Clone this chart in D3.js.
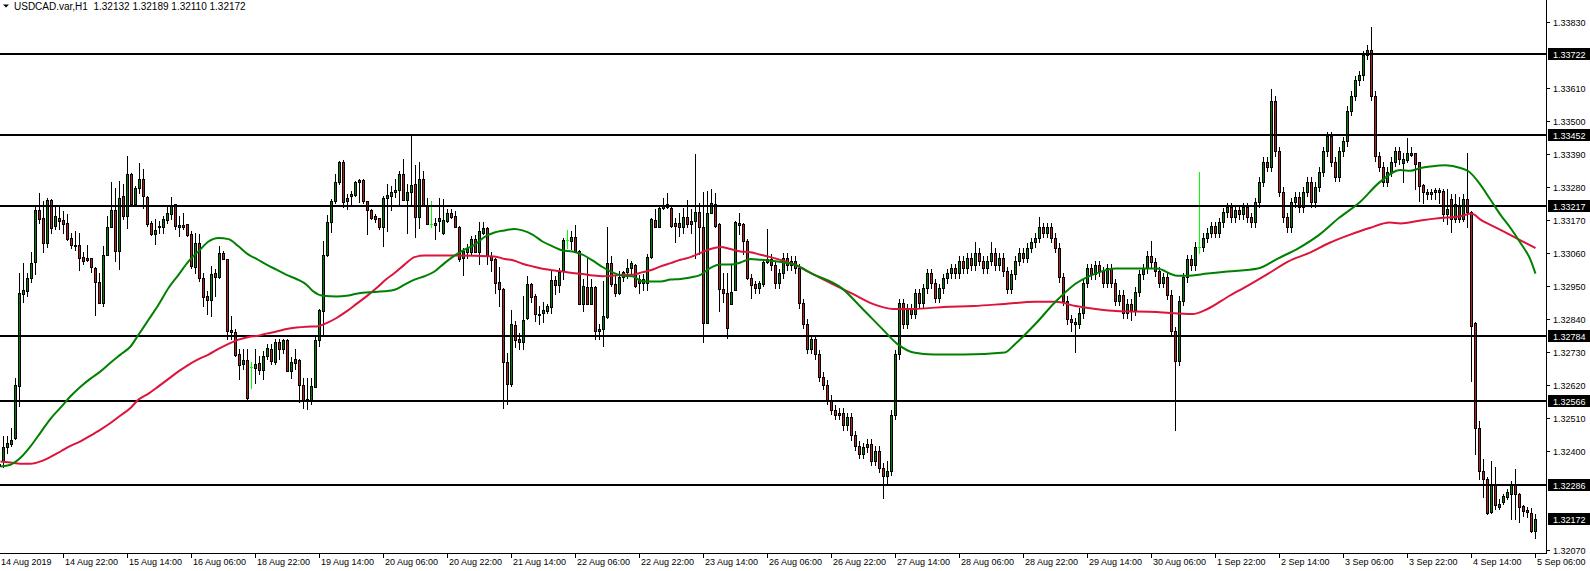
<!DOCTYPE html>
<html><head><meta charset="utf-8">
<script src="https://cdn.jsdelivr.net/npm/d3@7"></script>
<style>
body{margin:0;background:#fff;overflow:hidden;}
svg{display:block;}
text{font-family:"Liberation Sans",Arial,sans-serif;font-size:9px;fill:#000;}
</style></head>
<body><svg id="c" width="1590" height="571"></svg>
<script>
// ---- data (USDCAD.var, H1) ----
const opens=[1.32350,1.32367,1.32412,1.32423,1.32442,1.32617,1.32923,1.32934,1.32976,1.33030,1.33203,1.33176,1.33094,1.33237,1.33149,1.33178,1.33169,1.33159,1.33109,1.33088,1.33085,1.33046,1.33043,1.33043,1.33009,1.32962,1.32894,1.33055,1.33146,1.33203,1.33065,1.33250,1.33184,1.33322,1.33222,1.33276,1.33306,1.33248,1.33161,1.33122,1.33145,1.33145,1.33170,1.33189,1.33222,1.33152,1.33152,1.33156,1.33122,1.33013,1.33092,1.32978,1.32917,1.32903,1.32995,1.32980,1.33061,1.33039,1.32802,1.32797,1.32722,1.32689,1.32702,1.32680,1.32678,1.32693,1.32670,1.32717,1.32739,1.32698,1.32764,1.32739,1.32770,1.32667,1.32692,1.32703,1.32620,1.32573,1.32569,1.32614,1.32769,1.32867,1.33053,1.33164,1.33234,1.33295,1.33364,1.33234,1.33250,1.33255,1.33295,1.33303,1.33232,1.33203,1.33183,1.33176,1.33145,1.33244,1.33250,1.33262,1.33270,1.33323,1.33237,1.33262,1.33289,1.33180,1.33308,1.33219,1.33158,1.33153,1.33167,1.33125,1.33167,1.33195,1.33182,1.33148,1.33042,1.33064,1.33064,1.33106,1.33064,1.33128,1.33143,1.33050,1.33039,1.32962,1.32939,1.32697,1.32625,1.32819,1.32772,1.32763,1.32845,1.32956,1.32915,1.32857,1.32861,1.32865,1.32881,1.32969,1.32953,1.33000,1.33102,1.33100,1.33112,1.33067,1.32891,1.32947,1.32891,1.32947,1.32800,1.32806,1.32847,1.33026,1.32956,1.32928,1.32981,1.32998,1.33011,1.33020,1.32975,1.32959,1.32959,1.33048,1.33169,1.33148,1.33209,1.33213,1.33211,1.33161,1.33161,1.33145,1.33181,1.33167,1.33167,1.33197,1.33145,1.32828,1.33195,1.33222,1.33156,1.32941,1.32925,1.32891,1.32937,1.33161,1.33156,1.33100,1.32978,1.32956,1.32942,1.32956,1.33030,1.33041,1.33020,1.32959,1.32993,1.33044,1.33020,1.33034,1.33010,1.32892,1.32824,1.32740,1.32773,1.32723,1.32648,1.32621,1.32571,1.32537,1.32520,1.32527,1.32486,1.32513,1.32452,1.32418,1.32391,
1.32412,1.32425,1.32368,1.32401,1.32344,1.32317,1.32334,1.32520,1.32723,1.32892,1.32824,1.32875,1.32858,1.32926,1.32892,1.32942,1.32993,1.32959,1.32910,1.32942,1.32976,1.32993,1.33010,1.32993,1.33034,1.33010,1.33044,1.33020,1.33061,1.33034,1.33010,1.33034,1.33061,1.33020,1.33044,1.33000,1.32940,1.32990,1.33034,1.33061,1.33044,1.33078,1.33095,1.33111,1.33145,1.33128,1.33145,1.33111,1.33078,1.32980,1.32900,1.32840,1.32830,1.32824,1.32860,1.32960,1.33010,1.32990,1.33020,1.33000,1.32960,1.33010,1.32960,1.32900,1.32920,1.32860,1.32890,1.32870,1.32930,1.32990,1.33010,1.33050,1.33030,1.33000,1.32960,1.32980,1.32920,1.32800,1.32700,1.32900,1.32980,1.33040,1.33020,1.33080,1.33080,1.33110,1.33128,1.33150,1.33128,
1.33162,1.33196,1.33213,1.33179,1.33203,1.33189,1.33213,1.33179,1.33162,1.33230,1.33297,1.33365,1.33348,1.33568,1.33399,1.33264,1.33179,1.33145,1.33230,1.33247,1.33213,1.33264,1.33297,1.33230,1.33281,1.33331,1.33399,1.33450,1.33365,1.33314,1.33399,1.33433,1.33534,1.33585,1.33636,1.33652,1.33720,1.33737,1.33585,1.33382,1.33348,1.33297,1.33331,1.33365,1.33399,1.33359,1.33369,1.33387,1.33392,1.33362,1.33286,1.33258,1.33264,1.33262,1.33270,1.33267,1.33189,1.33239,1.33173,1.33216,1.33173,1.33239,1.33196,1.32826,1.32478,1.32333,1.32306,1.32196,1.32289,1.32213,1.32230,1.32246,1.32256,1.32289,1.32256,1.32216,1.32203,1.32195,1.32132];
const highs=[1.32362,1.32450,1.32450,1.32478,1.32642,1.32993,1.33026,1.32993,1.33062,1.33217,1.33259,1.33232,1.33242,1.33240,1.33215,1.33217,1.33200,1.33189,1.33128,1.33132,1.33128,1.33062,1.33086,1.33045,1.33012,1.32995,1.33084,1.33184,1.33295,1.33278,1.33300,1.33289,1.33384,1.33328,1.33283,1.33359,1.33339,1.33250,1.33167,1.33172,1.33167,1.33183,1.33217,1.33248,1.33222,1.33183,1.33195,1.33156,1.33133,1.33128,1.33122,1.32995,1.32933,1.33017,1.33006,1.33083,1.33067,1.33041,1.32850,1.32806,1.32739,1.32739,1.32739,1.32695,1.32739,1.32717,1.32734,1.32756,1.32756,1.32773,1.32773,1.32773,1.32773,1.32712,1.32739,1.32706,1.32645,1.32645,1.32645,1.32784,1.32872,1.33100,1.33186,1.33239,1.33323,1.33367,1.33370,1.33256,1.33267,1.33300,1.33308,1.33306,1.33234,1.33206,1.33189,1.33178,1.33250,1.33289,1.33284,1.33308,1.33334,1.33375,1.33289,1.33450,1.33353,1.33362,1.33334,1.33243,1.33234,1.33178,1.33245,1.33239,1.33206,1.33208,1.33200,1.33150,1.33078,1.33089,1.33117,1.33119,1.33162,1.33164,1.33145,1.33062,1.33042,1.33012,1.32942,1.32728,1.32869,1.32833,1.32795,1.32917,1.32983,1.32959,1.32922,1.32883,1.32895,1.32889,1.33000,1.32983,1.33011,1.33111,1.33137,1.33133,1.33152,1.33069,1.32972,1.33045,1.32972,1.32950,1.32822,1.32967,1.33148,1.33050,1.32983,1.33000,1.33000,1.33039,1.33033,1.33023,1.32986,1.32989,1.33056,1.33176,1.33206,1.33217,1.33245,1.33261,1.33219,1.33178,1.33195,1.33211,1.33236,1.33206,1.33389,1.33228,1.33263,1.33267,1.33272,1.33259,1.33161,1.32992,1.32992,1.33022,1.33167,1.33192,1.33161,1.33106,1.32989,1.32967,1.32967,1.33033,1.33141,1.33056,1.33035,1.33008,1.33059,1.33059,1.33049,1.33049,1.33025,1.32907,1.32839,1.32788,1.32788,1.32738,1.32663,1.32636,1.32586,1.32552,1.32542,1.32542,1.32528,1.32528,1.32467,1.32433,1.32427,
1.32440,1.32440,1.32416,1.32416,1.32360,1.32366,1.32535,1.32738,1.32907,1.32907,1.32890,1.32890,1.32941,1.32941,1.32957,1.33008,1.33008,1.32974,1.32957,1.32991,1.33008,1.33025,1.33025,1.33049,1.33049,1.33059,1.33059,1.33095,1.33076,1.33049,1.33049,1.33095,1.33076,1.33059,1.33059,1.33015,1.33005,1.33049,1.33076,1.33076,1.33093,1.33110,1.33126,1.33179,1.33160,1.33160,1.33160,1.33126,1.33093,1.32995,1.32915,1.32855,1.32845,1.32875,1.32975,1.33025,1.33025,1.33035,1.33035,1.33015,1.33025,1.33025,1.32975,1.32935,1.32935,1.32905,1.32905,1.32945,1.33005,1.33025,1.33065,1.33101,1.33045,1.33015,1.32995,1.32995,1.32935,1.32815,1.32915,1.32995,1.33055,1.33055,1.33095,1.33331,1.33125,1.33143,1.33165,1.33165,1.33177,
1.33211,1.33228,1.33228,1.33218,1.33218,1.33228,1.33228,1.33194,1.33245,1.33312,1.33380,1.33380,1.33608,1.33583,1.33414,1.33279,1.33194,1.33245,1.33262,1.33262,1.33279,1.33312,1.33312,1.33296,1.33346,1.33414,1.33465,1.33465,1.33380,1.33414,1.33448,1.33549,1.33600,1.33651,1.33667,1.33735,1.33752,1.33815,1.33600,1.33397,1.33363,1.33346,1.33380,1.33414,1.33414,1.33393,1.33445,1.33412,1.33395,1.33365,1.33289,1.33273,1.33273,1.33278,1.33275,1.33273,1.33273,1.33256,1.33256,1.33246,1.33256,1.33393,1.33199,1.32830,1.32500,1.32373,1.32313,1.32367,1.32346,1.32239,1.32256,1.32273,1.32299,1.32339,1.32259,1.32219,1.32213,1.32209,1.32189];
const lows=[1.32239,1.32345,1.32395,1.32417,1.32440,1.32550,1.32897,1.32917,1.32964,1.32989,1.33159,1.33062,1.33080,1.33128,1.33139,1.33139,1.33128,1.33104,1.33075,1.33070,1.33004,1.33023,1.33032,1.32997,1.32854,1.32893,1.32884,1.33053,1.33145,1.33033,1.33008,1.33173,1.33143,1.33217,1.33217,1.33261,1.33211,1.33150,1.33120,1.33089,1.33128,1.33128,1.33161,1.33172,1.33139,1.33115,1.33139,1.33117,1.33011,1.32995,1.32967,1.32883,1.32856,1.32850,1.32917,1.32978,1.33039,1.32772,1.32772,1.32717,1.32639,1.32672,1.32575,1.32611,1.32628,1.32656,1.32639,1.32706,1.32689,1.32689,1.32706,1.32728,1.32667,1.32645,1.32673,1.32562,1.32542,1.32539,1.32556,1.32612,1.32750,1.32789,1.33050,1.33130,1.33228,1.33289,1.33215,1.33206,1.33219,1.33250,1.33230,1.33228,1.33123,1.33173,1.33164,1.33139,1.33084,1.33134,1.33204,1.33248,1.33223,1.33236,1.33128,1.33223,1.33112,1.33142,1.33217,1.33156,1.33145,1.33108,1.33134,1.33123,1.33164,1.33178,1.33145,1.33034,1.32986,1.33042,1.33056,1.33062,1.33023,1.33123,1.33023,1.33000,1.32928,1.32884,1.32542,1.32556,1.32617,1.32745,1.32741,1.32741,1.32839,1.32895,1.32833,1.32822,1.32830,1.32861,1.32861,1.32922,1.32930,1.32972,1.33078,1.33072,1.33066,1.32889,1.32867,1.32889,1.32889,1.32772,1.32772,1.32750,1.32845,1.32950,1.32915,1.32922,1.32967,1.32978,1.32989,1.32948,1.32926,1.32937,1.32937,1.33045,1.33145,1.33145,1.33206,1.33211,1.33148,1.33095,1.33117,1.33126,1.33148,1.33128,1.33045,1.33056,1.32765,1.32826,1.33192,1.33148,1.32867,1.32895,1.32778,1.32889,1.32936,1.33122,1.33056,1.32972,1.32911,1.32928,1.32928,1.32950,1.33026,1.33005,1.32944,1.32944,1.32978,1.33005,1.33005,1.32995,1.32877,1.32809,1.32725,1.32725,1.32708,1.32633,1.32606,1.32556,1.32522,1.32505,1.32505,1.32471,1.32471,1.32437,1.32403,1.32376,1.32376,
1.32397,1.32353,1.32353,1.32329,1.32245,1.32290,1.32319,1.32505,1.32708,1.32809,1.32809,1.32843,1.32843,1.32877,1.32877,1.32927,1.32944,1.32895,1.32895,1.32927,1.32961,1.32978,1.32978,1.32978,1.32995,1.32995,1.33005,1.33005,1.33019,1.32995,1.32995,1.33019,1.33005,1.33005,1.32985,1.32925,1.32925,1.32975,1.33019,1.33029,1.33029,1.33063,1.33080,1.33096,1.33113,1.33113,1.33096,1.33063,1.32965,1.32885,1.32825,1.32800,1.32730,1.32809,1.32845,1.32945,1.32975,1.32975,1.32985,1.32945,1.32945,1.32945,1.32885,1.32885,1.32845,1.32845,1.32836,1.32855,1.32915,1.32975,1.32995,1.33015,1.32985,1.32945,1.32945,1.32905,1.32785,1.32469,1.32685,1.32885,1.32965,1.33005,1.33005,1.33060,1.33065,1.33095,1.33113,1.33113,1.33113,
1.33147,1.33181,1.33164,1.33164,1.33174,1.33174,1.33164,1.33147,1.33147,1.33215,1.33282,1.33333,1.33333,1.33384,1.33249,1.33164,1.33130,1.33130,1.33215,1.33198,1.33198,1.33249,1.33215,1.33215,1.33266,1.33316,1.33384,1.33350,1.33299,1.33299,1.33384,1.33418,1.33519,1.33570,1.33621,1.33637,1.33705,1.33570,1.33367,1.33333,1.33282,1.33282,1.33316,1.33350,1.33357,1.33295,1.33362,1.33384,1.33273,1.33234,1.33228,1.33239,1.33239,1.33239,1.33228,1.33166,1.33156,1.33130,1.33163,1.33163,1.33166,1.33146,1.32634,1.32389,1.32306,1.32246,1.32189,1.32193,1.32206,1.32206,1.32223,1.32239,1.32173,1.32173,1.32163,1.32184,1.32179,1.32129,1.32110];
const closes=[1.32356,1.32412,1.32426,1.32436,1.32619,1.32926,1.32936,1.32976,1.33028,1.33203,1.33175,1.33094,1.33237,1.33142,1.33185,1.33167,1.33156,1.33106,1.33087,1.33084,1.33044,1.33034,1.33037,1.33012,1.32962,1.32894,1.33055,1.33146,1.33204,1.33065,1.33245,1.33184,1.33323,1.33222,1.33278,1.33306,1.33250,1.33156,1.33122,1.33136,1.33149,1.33172,1.33192,1.33217,1.33150,1.33147,1.33147,1.33120,1.33017,1.33092,1.32978,1.32913,1.32903,1.32991,1.32980,1.33061,1.33041,1.32800,1.32797,1.32720,1.32687,1.32702,1.32576,1.32680,1.32691,1.32670,1.32717,1.32742,1.32700,1.32762,1.32739,1.32770,1.32667,1.32695,1.32706,1.32620,1.32569,1.32567,1.32617,1.32769,1.32869,1.33053,1.33165,1.33234,1.33295,1.33362,1.33230,1.33245,1.33256,1.33295,1.33303,1.33232,1.33203,1.33176,1.33173,1.33145,1.33245,1.33253,1.33264,1.33270,1.33323,1.33237,1.33264,1.33286,1.33180,1.33306,1.33219,1.33158,1.33158,1.33159,1.33178,1.33169,1.33195,1.33180,1.33147,1.33039,1.33067,1.33078,1.33106,1.33064,1.33132,1.33143,1.33050,1.33037,1.32959,1.32939,1.32697,1.32623,1.32823,1.32769,1.32763,1.32836,1.32956,1.32913,1.32856,1.32852,1.32870,1.32883,1.32969,1.32953,1.32997,1.33103,1.33102,1.33112,1.33067,1.32891,1.32950,1.32891,1.32947,1.32800,1.32808,1.32850,1.33026,1.32956,1.32926,1.32981,1.32998,1.33011,1.33028,1.32950,1.32959,1.32972,1.33048,1.33172,1.33148,1.33211,1.33217,1.33222,1.33150,1.33150,1.33145,1.33181,1.33156,1.33156,1.33197,1.33145,1.32828,1.33195,1.33226,1.33150,1.32941,1.32925,1.32811,1.32931,1.33165,1.33152,1.33100,1.32978,1.32953,1.32942,1.32959,1.33030,1.33041,1.33020,1.32959,1.32993,1.33044,1.33020,1.33034,1.33010,1.32892,1.32824,1.32740,1.32773,1.32723,1.32648,1.32621,1.32571,1.32537,1.32520,1.32527,1.32486,1.32513,1.32452,1.32418,1.32391,1.32412,
1.32425,1.32368,1.32401,1.32344,1.32317,1.32334,1.32520,1.32723,1.32892,1.32824,1.32875,1.32858,1.32926,1.32892,1.32942,1.32993,1.32959,1.32910,1.32942,1.32976,1.32993,1.33010,1.32993,1.33034,1.33010,1.33044,1.33020,1.33061,1.33034,1.33010,1.33034,1.33061,1.33020,1.33044,1.33000,1.32940,1.32990,1.33034,1.33061,1.33044,1.33078,1.33095,1.33111,1.33145,1.33128,1.33145,1.33111,1.33078,1.32980,1.32900,1.32840,1.32830,1.32824,1.32860,1.32960,1.33010,1.32990,1.33020,1.33000,1.32960,1.33010,1.32960,1.32900,1.32920,1.32860,1.32890,1.32870,1.32930,1.32990,1.33010,1.33050,1.33030,1.33000,1.32960,1.32980,1.32920,1.32800,1.32700,1.32900,1.32980,1.33040,1.33020,1.33080,1.33080,1.33110,1.33128,1.33150,1.33128,1.33162,
1.33196,1.33213,1.33179,1.33203,1.33189,1.33213,1.33179,1.33162,1.33230,1.33297,1.33365,1.33348,1.33568,1.33399,1.33264,1.33179,1.33145,1.33230,1.33247,1.33213,1.33264,1.33297,1.33230,1.33281,1.33331,1.33399,1.33450,1.33365,1.33314,1.33399,1.33433,1.33534,1.33585,1.33636,1.33652,1.33720,1.33737,1.33585,1.33382,1.33348,1.33297,1.33331,1.33365,1.33399,1.33372,1.33375,1.33395,1.33395,1.33358,1.33284,1.33264,1.33264,1.33258,1.33270,1.33262,1.33189,1.33206,1.33173,1.33223,1.33173,1.33239,1.33196,1.32817,1.32475,1.32334,1.32306,1.32195,1.32289,1.32219,1.32223,1.32250,1.32263,1.32289,1.32256,1.32215,1.32200,1.32196,1.32134,1.32172];

// moving averages (bar position, price)
const maGreenPos=[0.25,2.75,5.25,7.75,10.25,12.75,15.25,17.75,20.25,22.75,25.25,27.75,30.25,32.75,34.75,37.25,39.75,42.25,44.75,47.25,49.75,52.25,54.75,57.25,59.75,62.25,64.25,66.75,69.25,71.75,74.25,76.75,78.4,80.9,84.25,86.75,89.25,91.75,96.25,98.75,101.25,103.75,106.25,108.75,111.25,113.75,116.25,118.75,121.25,123.75,126.25,128.75,130.75,133.25,135.75,138.25,140.75,143.25,145.75,148.25,150.75,153.25,155.75,158.25,160.75,165.25,167.75,170.25,172.75,175.25,177.75,180.25,182.75,185.25,187.75,190.25,192.75,199.25,203.1,210.7,215.8,220.8,224.6,228.5,233.5,241.1,251.3,253.8,258.9,264,269,274,279.1,289.3,294.4,296.9,302,307,314.6,319.7,324.8,329.9,334.9,340,345,350.2,352.75,355.25,357.75,361.5,365.25,367.25,370.25,372.75,375.25,377.75,380.25,382.75,384];
const maGreenVal=[1.32350,1.32356,1.32379,1.32417,1.32463,1.32509,1.32546,1.32584,1.32616,1.32643,1.32667,1.32696,1.32723,1.32750,1.32789,1.32839,1.32889,1.32945,1.32989,1.33034,1.33067,1.33100,1.33112,1.33108,1.33084,1.33056,1.33042,1.33023,1.33006,1.32989,1.32975,1.32956,1.32934,1.32919,1.32917,1.32919,1.32926,1.32930,1.32934,1.32939,1.32956,1.32973,1.32984,1.33000,1.33028,1.33053,1.33073,1.33089,1.33115,1.33130,1.33137,1.33142,1.33137,1.33123,1.33100,1.33084,1.33070,1.33067,1.33056,1.33037,1.33015,1.32997,1.32986,1.32984,1.32967,1.32967,1.32973,1.32975,1.32980,1.32989,1.33012,1.33023,1.33023,1.33030,1.33042,1.33039,1.33036,1.33020,1.32993,1.32943,1.32875,1.32807,1.32757,1.32730,1.32723,1.32723,1.32730,1.32757,1.32824,1.32899,1.32959,1.32993,1.33010,1.33010,1.32986,1.32986,1.32993,1.33000,1.33010,1.33044,1.33078,1.33122,1.33179,1.33230,1.33297,1.33338,1.33336,1.33345,1.33350,1.33354,1.33345,1.33334,1.33289,1.33239,1.33189,1.33145,1.33095,1.33039,1.32993];
const maRedPos=[0.25,2.75,5.25,7.75,10.25,12.75,15.25,17.75,20.25,22.75,25.25,27.75,30.25,32.75,34.75,37.25,39.75,42.25,44.75,47.25,49.75,52.25,54.75,57.25,59.75,62.25,64.75,66.75,69.25,71.75,74.25,76.75,79.25,81.75,84.25,86.75,89.25,91.75,94.25,96.75,98.75,101.25,103.75,106.25,113.75,123.75,126.25,128.75,130.75,133.25,135.75,138.25,140.75,143.25,145.75,148.25,150.75,153.25,155.75,158.25,160.75,162.75,165.25,167.75,170.25,172.75,175.25,177.75,180.25,182.75,185.25,187.75,190.25,192.75,199.25,203.1,208.15,213.2,218.3,223.4,228.5,236,243.6,251.3,258.9,264,269,274,279.1,289.3,298.2,302,307,312.1,317.2,322.25,327.3,332.4,337.5,342.5,347.6,350.25,355.25,360.25,365.25,368,370.25,375.25,380.25,384];
const maRedVal=[1.32367,1.32363,1.32359,1.32359,1.32367,1.32382,1.32400,1.32419,1.32434,1.32453,1.32473,1.32495,1.32520,1.32545,1.32573,1.32593,1.32617,1.32642,1.32667,1.32689,1.32708,1.32723,1.32742,1.32759,1.32773,1.32782,1.32786,1.32793,1.32800,1.32808,1.32813,1.32816,1.32817,1.32828,1.32845,1.32867,1.32892,1.32917,1.32945,1.32975,1.32995,1.33023,1.33048,1.33053,1.33053,1.33050,1.33042,1.33036,1.33026,1.33017,1.33009,1.33004,1.33000,1.32995,1.32992,1.32987,1.32984,1.32986,1.32989,1.32989,1.32998,1.33004,1.33017,1.33028,1.33039,1.33048,1.33062,1.33075,1.33082,1.33075,1.33067,1.33064,1.33056,1.33048,1.33020,1.32993,1.32959,1.32926,1.32892,1.32875,1.32875,1.32882,1.32885,1.32892,1.32899,1.32899,1.32885,1.32875,1.32868,1.32865,1.32858,1.32875,1.32915,1.32953,1.32993,1.33034,1.33061,1.33095,1.33122,1.33145,1.33163,1.33160,1.33170,1.33178,1.33184,1.33193,1.33173,1.33139,1.33104,1.33078];

const timeLabels=["14 Aug 2019","14 Aug 22:00","15 Aug 14:00","16 Aug 06:00","18 Aug 22:00","19 Aug 14:00","20 Aug 06:00","20 Aug 22:00","21 Aug 14:00","22 Aug 06:00","22 Aug 22:00","23 Aug 14:00","26 Aug 06:00","26 Aug 22:00","27 Aug 14:00","28 Aug 06:00","28 Aug 22:00","29 Aug 14:00","30 Aug 06:00","1 Sep 22:00","2 Sep 14:00","3 Sep 06:00","3 Sep 22:00","4 Sep 14:00","5 Sep 06:00"];
const priceTicks=[1.33830,1.33610,1.33500,1.33390,1.33280,1.33170,1.33060,1.32950,1.32840,1.32730,1.32620,1.32510,1.32400,1.32070];
const levels=[1.33722,1.33452,1.33217,1.32784,1.32566,1.32286];
const lastPrice=1.32172;
const header="USDCAD.var,H1  1.32132 1.32189 1.32110 1.32172";

// ---- drawing ----
const W=1590,H=571,plotR=1546,plotB=553;
const svg=d3.select("#c");
const x=d3.scaleLinear().domain([0,384]).range([-1,1535]);
const y=d3.scaleLinear().domain([1.32070,1.33830]).range([550.5,22.5]);
const row=v=>Math.floor(y(v));
const bars=closes.map((c,i)=>({i,o:opens[i],h:highs[i],l:lows[i],c}));

const plot=svg.append("g").attr("shape-rendering","crispEdges");
const cg=plot.selectAll("g.bar").data(bars).join("g").attr("class","bar");
cg.append("rect")
  .attr("x",d=>x(d.i)).attr("y",d=>row(d.h)).attr("width",1)
  .attr("height",d=>row(d.l)-row(d.h)+1)
  .attr("fill",d=>d.o===d.c?"#00ff00":"#000");
cg.each(function(d){
  const g=d3.select(this);
  const t=Math.min(row(d.o),row(d.c)), b=Math.max(row(d.o),row(d.c));
  if(d.o===d.c){
    g.append("rect").attr("x",x(d.i)-1).attr("y",t).attr("width",3).attr("height",1).attr("fill","#00ff00");
    return;
  }
  g.append("rect").attr("x",x(d.i)-1).attr("y",t).attr("width",3).attr("height",b-t+1).attr("fill","#000");
  if(b-t>=2) g.append("rect").attr("x",x(d.i)).attr("y",t+1).attr("width",1).attr("height",b-t-1)
     .attr("fill",d.c>d.o?"#008000":"#b22222");
});

const line=d3.line().x(d=>x(d[0])+0.5).y(d=>y(d[1])).curve(d3.curveMonotoneX);
svg.append("path").datum(maRedPos.map((p,k)=>[p,maRedVal[k]]))
  .attr("d",line).attr("fill","none").attr("stroke","#dc143c").attr("stroke-width",2);
svg.append("path").datum(maGreenPos.map((p,k)=>[p,maGreenVal[k]]))
  .attr("d",line).attr("fill","none").attr("stroke","#008000").attr("stroke-width",2);

// horizontal levels
plot.selectAll("rect.lvl").data(levels).join("rect").attr("class","lvl")
  .attr("x",0).attr("y",d=>row(d)-1).attr("width",plotR).attr("height",2).attr("fill","#000");

// mask anything drawn past the plot
svg.append("rect").attr("x",plotR+1).attr("y",0).attr("width",W-plotR).attr("height",H).attr("fill","#fff");
svg.append("rect").attr("x",0).attr("y",plotB+1).attr("width",W).attr("height",H-plotB).attr("fill","#fff");

// frame
const ax=svg.append("g").attr("shape-rendering","crispEdges");
ax.append("rect").attr("x",plotR).attr("y",0).attr("width",1).attr("height",plotB+1).attr("fill","#000");
ax.append("rect").attr("x",0).attr("y",plotB).attr("width",plotR+1).attr("height",1).attr("fill","#000");

// price axis
priceTicks.forEach(p=>{
  const r=row(p);
  ax.append("rect").attr("x",plotR+1).attr("y",r).attr("width",3).attr("height",1).attr("fill","#000");
  svg.append("text").attr("x",1553).attr("y",r+0.5).attr("dy","0.35em").text(p.toFixed(5));
});
[...levels,lastPrice].forEach(p=>{
  const r=row(p);
  ax.append("rect").attr("x",1548).attr("y",r-6).attr("width",42).attr("height",12).attr("fill","#000");
  svg.append("text").attr("x",1553).attr("y",r+0.5).attr("dy","0.35em").style("fill","#fff").text(p.toFixed(5));
});

// time axis
timeLabels.forEach((t,k)=>{
  const xx=x(16*k);
  ax.append("rect").attr("x",xx).attr("y",plotB+1).attr("width",1).attr("height",4).attr("fill","#000");
  svg.append("text").attr("x",k===0?1:xx+2).attr("y",565).text(t);
});

// header
svg.append("path").attr("d","M3,4.5 L9,4.5 L6,7.5 Z").attr("fill","#000");
svg.append("text").attr("x",14).attr("y",10).attr("xml:space","preserve").style("white-space","pre").style("font-size","10px").text(header);
</script>
</body></html>
